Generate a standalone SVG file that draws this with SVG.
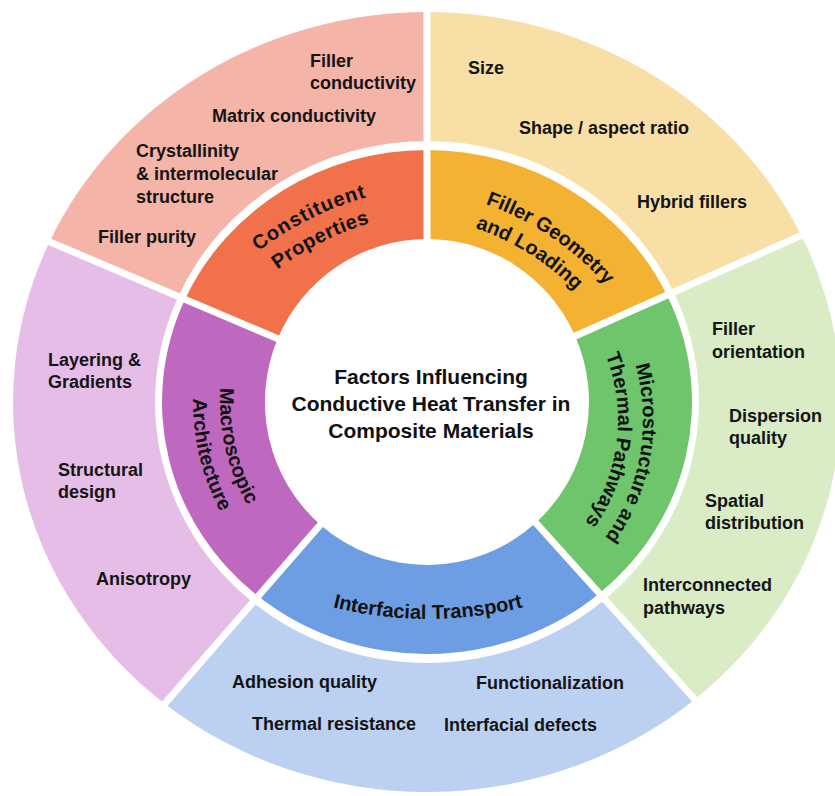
<svg xmlns="http://www.w3.org/2000/svg" width="835" height="796" viewBox="0 0 835 796">
  <defs>
    <style>
      .lbl { font-family: "Liberation Sans", Arial, sans-serif; font-weight: 700; font-size: 18px; fill: #141414; }
      .cat { font-family: "Liberation Sans", Arial, sans-serif; font-weight: 700; font-size: 20px; fill: #111111; }
      .title { font-family: "Liberation Sans", Arial, sans-serif; font-weight: 700; font-size: 21px; fill: #111111; text-anchor: middle; }
      .sep { stroke: #ffffff; stroke-width: 7; stroke-linecap: butt; }
    </style>
    <!-- baselines for the curved category names -->
    <path id="tp-const-1" d="M236.8,269.5 A320,320 0 0 1 394.5,190.6"/>
    <path id="tp-const-2" d="M254.4,288.7 A294,294 0 0 1 399.3,216.1"/>
    <path id="tp-geo-1" d="M366.1,189.1 A286,286 0 0 1 664.5,390.4"/>
    <path id="tp-geo-2" d="M359.3,215.9 A260,260 0 0 1 636.8,389.3"/>
    <path id="tp-micro-1" d="M596.0,290.8 A201,201 0 0 1 542.5,594.1"/>
    <path id="tp-micro-2" d="M570.7,300.0 A176,176 0 0 1 537.9,567.6"/>
    <path id="tp-inter" d="M233,566.7 A390,390 0 0 0 623,566.7"/>
    <path id="tp-macro-1" d="M247.7,298.5 A207,207 0 0 0 311.2,573.6"/>
    <path id="tp-macro-2" d="M223.1,287.1 A234,234 0 0 0 298.2,597.3"/>
  </defs>

  <rect width="835" height="796" fill="#ffffff"/>

  <!-- Constituent Properties -->
  <g id="constituent-properties">
    <path d="M49.6,241.8 A414,390 0 0 1 427,12 L427,141 A272,261 0 0 0 178.3,296.4 Z" fill="#F5B4A8"/>
    <path d="M185.0,299.3 A265,252 0 0 1 427,150 L427,239 A162,163 0 0 0 277.7,338.6 Z" fill="#F0714A"/>
    <text class="cat" letter-spacing="1"><textPath href="#tp-const-1" startOffset="50%" text-anchor="middle">Constituent</textPath></text>
    <text class="cat" letter-spacing="0.5"><textPath href="#tp-const-2" startOffset="50%" text-anchor="middle">Properties</textPath></text>
    <text class="lbl" x="310" y="67">Filler</text>
    <text class="lbl" x="310" y="89">conductivity</text>
    <text class="lbl" x="212" y="122">Matrix conductivity</text>
    <text class="lbl" x="136" y="157">Crystallinity</text>
    <text class="lbl" x="136" y="180">&amp; intermolecular</text>
    <text class="lbl" x="136" y="203">structure</text>
    <text class="lbl" x="98" y="243">Filler purity</text>
  </g>

  <!-- Filler Geometry and Loading -->
  <g id="filler-geometry">
    <path d="M427,12 A414,390 0 0 1 801.3,235.4 L673.7,292.2 A272,261 0 0 0 427,141 Z" fill="#F7DFA5"/>
    <path d="M427,150 A265,252 0 0 1 667.0,295.2 L575.1,336.0 A162,163 0 0 0 427,239 Z" fill="#F4B233"/>
    <text class="cat"><textPath href="#tp-geo-1" startOffset="50%" text-anchor="middle">Filler Geometry</textPath></text>
    <text class="cat"><textPath href="#tp-geo-2" startOffset="50%" text-anchor="middle">and Loading</textPath></text>
    <text class="lbl" x="468" y="74">Size</text>
    <text class="lbl" x="519" y="134">Shape / aspect ratio</text>
    <text class="lbl" x="637" y="208">Hybrid fillers</text>
  </g>

  <!-- Microstructure and Thermal Pathways -->
  <g id="microstructure">
    <path d="M801.3,235.4 A414,390 0 0 1 694.8,699.4 L604.8,599.5 A272,261 0 0 0 673.7,292.2 Z" fill="#D9ECC6"/>
    <path d="M667.0,295.2 A265,252 0 0 1 599.4,593.4 L535.8,522.8 A162,163 0 0 0 575.1,336.0 Z" fill="#6EC56C"/>
    <text class="cat"><textPath href="#tp-micro-1" startOffset="50%" text-anchor="middle">Microstructure and</textPath></text>
    <text class="cat"><textPath href="#tp-micro-2" startOffset="50%" text-anchor="middle">Thermal Pathways</textPath></text>
    <text class="lbl" x="712" y="335">Filler</text>
    <text class="lbl" x="712" y="358">orientation</text>
    <text class="lbl" x="729" y="422">Dispersion</text>
    <text class="lbl" x="729" y="444">quality</text>
    <text class="lbl" x="705" y="507">Spatial</text>
    <text class="lbl" x="705" y="529">distribution</text>
    <text class="lbl" x="643" y="591">Interconnected</text>
    <text class="lbl" x="643" y="614">pathways</text>
  </g>

  <!-- Interfacial Transport -->
  <g id="interfacial-transport">
    <path d="M694.8,699.4 A414,390 0 0 1 164.7,703.7 L252.8,602.4 A272,261 0 0 0 604.8,599.5 Z" fill="#BCD0F2"/>
    <path d="M599.4,593.4 A265,252 0 0 1 258.2,596.2 L320.3,524.7 A162,163 0 0 0 535.8,522.8 Z" fill="#6D9EE3"/>
    <text class="cat"><textPath href="#tp-inter" startOffset="50%" text-anchor="middle">Interfacial Transport</textPath></text>
    <text class="lbl" x="232" y="688">Adhesion quality</text>
    <text class="lbl" x="252" y="730">Thermal resistance</text>
    <text class="lbl" x="476" y="689">Functionalization</text>
    <text class="lbl" x="444" y="731">Interfacial defects</text>
  </g>

  <!-- Macroscopic Architecture -->
  <g id="macroscopic-architecture">
    <path d="M164.7,703.7 A414,390 0 0 1 49.6,241.8 L178.3,296.4 A272,261 0 0 0 252.8,602.4 Z" fill="#E6BDE7"/>
    <path d="M258.2,596.2 A265,252 0 0 1 185.0,299.3 L277.7,338.6 A162,163 0 0 0 320.3,524.7 Z" fill="#BE68BF"/>
    <text class="cat"><textPath href="#tp-macro-1" startOffset="50%" text-anchor="middle">Macroscopic</textPath></text>
    <text class="cat"><textPath href="#tp-macro-2" startOffset="50%" text-anchor="middle">Architecture</textPath></text>
    <text class="lbl" x="48" y="366">Layering &amp;</text>
    <text class="lbl" x="48" y="388">Gradients</text>
    <text class="lbl" x="58" y="476">Structural</text>
    <text class="lbl" x="58" y="498">design</text>
    <text class="lbl" x="96" y="585">Anisotropy</text>
  </g>

  <!-- white gaps between neighbouring sectors -->
  <g id="separators">
    <line class="sep" x1="427" y1="252" x2="427" y2="-38"/>
    <line class="sep" x1="564.0" y1="341.0" x2="828.9" y2="223.1"/>
    <line class="sep" x1="527.4" y1="513.5" x2="721.4" y2="729.0"/>
    <line class="sep" x1="328.6" y1="515.2" x2="138.3" y2="734.1"/>
    <line class="sep" x1="288.9" y1="343.4" x2="22.0" y2="230.1"/>
  </g>

  <!-- central title -->
  <g id="center-title">
    <text class="title" x="431" y="384">Factors Influencing</text>
    <text class="title" x="431" y="411">Conductive Heat Transfer in</text>
    <text class="title" x="431" y="438">Composite Materials</text>
  </g>
</svg>
